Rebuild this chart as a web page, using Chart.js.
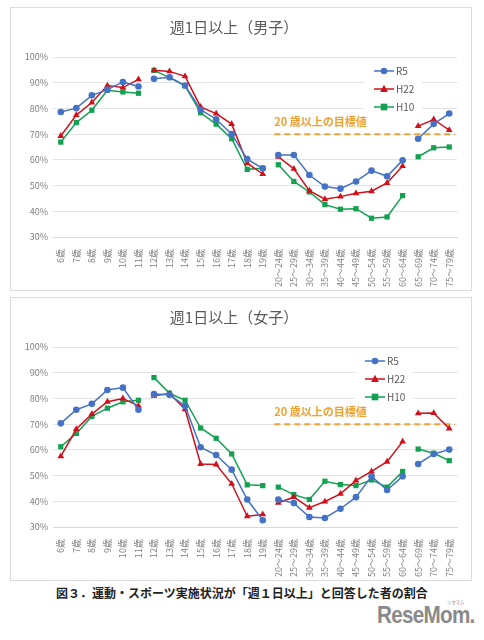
<!DOCTYPE html>
<html lang="ja">
<head>
<meta charset="UTF-8">
<title>週1日以上</title>
<script src="https://cdn.jsdelivr.net/npm/chart.js"></script>
<style>
  body { margin: 0; background: #fff; width: 484px; height: 640px; position: relative; font-family: "Noto Sans CJK JP", sans-serif; overflow: hidden; }
  .box { position: absolute; left: 10px; width: 462px; height: 284px; border: 1px solid #dcdcdc; box-sizing: border-box; }
  .box div { position: relative; width: 460px; height: 282px; }
  #caption { position: absolute; top: 584px; left: 0; width: 484px; text-align: center; font-size: 12px; font-weight: bold; color: #222; }
  #logo { position: absolute; top: 601px; right: 9px; font-family: "Liberation Sans", Arial, sans-serif; font-weight: bold; font-size: 24px; color: #8a8a8a; letter-spacing: -0.8px; transform: scaleX(0.86); transform-origin: right center; }
  #logo small { position: absolute; top: -3px; right: 12px; font-size: 5px; font-weight: normal; letter-spacing: 0; font-family: "Noto Sans CJK JP", sans-serif; }
</style>
</head>
<body>
  <div class="box" style="top:7px"><div><canvas id="boysChart"></canvas></div></div>
  <div class="box" style="top:297px"><div><canvas id="girlsChart"></canvas></div></div>
  <div id="caption">図３．運動・スポーツ実施状況が「週１日以上」と回答した者の割合</div>
  <div id="logo">ReseMom.<small>リセマム</small></div>

<script>
// 年齢区分
const CATEGORIES = ['6歳', '7歳', '8歳', '9歳', '10歳', '11歳', '12歳', '13歳', '14歳', '15歳', '16歳', '17歳', '18歳', '19歳',
  '20～24歳', '25～29歳', '30～34歳', '35～39歳', '40～44歳', '45～49歳', '50～54歳', '55～59歳', '60～64歳',
  '65～69歳', '70～74歳', '75～79歳'];

// 男子 (%)
const BOYS_R5 = [78.6, 80.1, 85.1, 87.3, 90.3, 88.5, 91.5, 92.1, 88.9, 79.5, 75.8, 70.0, 60.3, 56.7,
  61.9, 61.9, 54.1, 49.6, 48.8, 51.6, 55.8, 53.6, 59.8, 68.2, 74.0, 78.0];
const BOYS_H22 = [69.3, 77.4, 82.3, 88.9, 88.1, 91.3, 94.8, 94.4, 92.5, 80.6, 78.0, 73.9, 58.7, 54.5,
  61.2, 56.5, 48.0, 44.7, 45.7, 47.0, 47.8, 51.0, 57.6, 73.1, 75.7, 71.6];
const BOYS_H10 = [66.9, 74.5, 79.3, 87.1, 86.4, 85.9, 94.8, 92.0, 88.8, 78.3, 73.9, 68.2, 56.3, 56.7,
  58.1, 51.6, 47.5, 42.6, 40.8, 41.0, 37.3, 37.8, 46.1, 61.2, 64.7, 65.0];

// 女子 (%)
const GIRLS_R5 = [70.3, 75.6, 77.9, 83.3, 84.2, 75.6, 81.7, 81.4, 77.1, 61.0, 58.0, 52.3, 40.7, 32.6,
  40.7, 39.3, 33.9, 33.5, 37.1, 41.6, 49.7, 44.4, 49.7, 54.5, 58.4, 60.1];
const GIRLS_H22 = [57.5, 68.1, 73.9, 78.7, 80.0, 77.1, 81.0, 81.9, 75.8, 54.5, 54.3, 46.8, 34.2, 34.9,
  39.4, 41.6, 37.5, 39.9, 42.9, 48.1, 51.6, 55.4, 63.2, 74.2, 74.3, 68.3];
const GIRLS_H10 = [61.2, 66.4, 73.0, 76.2, 78.7, 79.3, 88.1, 82.0, 79.3, 68.5, 64.5, 58.4, 46.4, 46.1,
  45.5, 42.6, 40.7, 47.8, 46.5, 46.1, 48.3, 45.5, 51.6, 60.3, 58.7, 55.8];

// 線を切る位置 (この番号の次とはつながない)
const BREAKS = [5, 13, 22];

// 20歳以上の目標値
const TARGET_VALUE = 70;
const TARGET_FROM = 14;
const TARGET_LABEL = '20 歳以上の目標値';

const Y_MIN = 30, Y_MAX = 100, Y_STEP = 10;

const FONT = '"Noto Sans CJK JP", sans-serif';
const SERIES = [
  { label: 'R5', color: '#4472C4', style: 'circle', radius: 3.3 },
  { label: 'H22', color: '#D0101B', style: 'triangle', radius: 3.9 },
  { label: 'H10', color: '#12A150', style: 'rect', radius: 3.7 }
];

function drawMarker(ctx, style, x, y, r) {
  ctx.beginPath();
  if (style === 'circle') {
    ctx.arc(x, y, r, 0, Math.PI * 2);
  } else if (style === 'triangle') {
    ctx.moveTo(x, y - r * 1.1);
    ctx.lineTo(x + r, y + r * 0.75);
    ctx.lineTo(x - r, y + r * 0.75);
    ctx.closePath();
  } else {
    ctx.rect(x - r * 0.9, y - r * 0.9, r * 1.8, r * 1.8);
  }
  ctx.fill();
}

const legendPlugin = {
  id: 'boxLegend',
  beforeDatasetsDraw(chart, args, opts) {
    const { ctx, chartArea } = chart;
    const lx = chartArea.right - opts.right;
    const top = chartArea.top + 14;
    ctx.save();
    ctx.fillStyle = '#fff';
    ctx.fillRect(lx - 10, chartArea.top + 4, 58, 52);
    ctx.font = '10px ' + FONT;
    ctx.textBaseline = 'middle';
    chart.data.datasets.forEach((ds, i) => {
      if (!ds.inLegend) return;
      const y = top + i * 18;
      ctx.strokeStyle = ds.borderColor;
      ctx.lineWidth = 1.5;
      ctx.beginPath();
      ctx.moveTo(lx, y);
      ctx.lineTo(lx + 20, y);
      ctx.stroke();
      ctx.fillStyle = ds.borderColor;
      drawMarker(ctx, ds.pointStyle, lx + 10, y, ds.pointRadius);
      ctx.fillStyle = '#595959';
      ctx.fillText(ds.label, lx + 22, y + 0.5);
    });
    ctx.restore();
  }
};

const targetPlugin = {
  id: 'target',
  beforeDatasetsDraw(chart) {
    const { ctx, chartArea, scales } = chart;
    const y = scales.y.getPixelForValue(TARGET_VALUE);
    const x0 = scales.x.getPixelForValue(TARGET_FROM) - 4;
    ctx.save();
    ctx.strokeStyle = '#F2A233';
    ctx.lineWidth = 2;
    ctx.setLineDash([6, 4]);
    ctx.beginPath();
    ctx.moveTo(x0, y);
    ctx.lineTo(chartArea.right - 2, y);
    ctx.stroke();
    ctx.setLineDash([]);
    ctx.fillStyle = '#F0A030';
    ctx.font = 'bold 11px ' + FONT;
    ctx.textBaseline = 'middle';
    ctx.fillText(TARGET_LABEL, x0, y - 12);
    ctx.restore();
  }
};

function makeChart(canvasId, title, series, legendRight) {
  new Chart(document.getElementById(canvasId), {
    type: 'line',
    data: {
      labels: CATEGORIES,
      datasets: SERIES.map((s, i) => ({
        label: s.label,
        data: series[i],
        borderColor: s.color,
        backgroundColor: s.color,
        borderWidth: 1.5,
        pointStyle: s.style,
        pointRadius: s.radius,
        pointBorderWidth: 0,
        inLegend: true,
        tension: 0,
        segment: {
          borderColor: ctx => BREAKS.includes(ctx.p0DataIndex) ? 'rgba(0,0,0,0)' : undefined
        }
      }))
    },
    options: {
      responsive: true,
      maintainAspectRatio: false,
      animation: false,
      layout: { padding: { left: 0, right: 14, top: 0, bottom: 0 } },
      plugins: {
        legend: { display: false },
        tooltip: { enabled: false },
        title: {
          display: true,
          text: title,
          color: '#595959',
          font: { family: FONT, size: 15, weight: 'normal', lineHeight: 1.2 },
          padding: { top: 10, bottom: 21 }
        },
        boxLegend: { right: legendRight }
      },
      scales: {
        x: {
          offset: true,
          grid: { display: false },
          border: { color: '#d9d9d9' },
          ticks: {
            autoSkip: false, minRotation: 90, maxRotation: 90, padding: 4,
            color: '#7f7f7f', font: { family: FONT, size: 9 }
          },
          afterFit(scale) { scale.height = 53; }
        },
        y: {
          min: Y_MIN, max: Y_MAX,
          border: { display: false },
          grid: { color: '#e3e3e3', drawTicks: false },
          ticks: {
            stepSize: Y_STEP, padding: 5,
            color: '#7f7f7f', font: { family: FONT, size: 9 },
            callback: v => v + '%'
          },
          afterFit(scale) { scale.width = 42; }
        }
      }
    },
    plugins: [legendPlugin, targetPlugin]
  });
}

makeChart('boysChart', '週1日以上（男子）', [BOYS_R5, BOYS_H22, BOYS_H10], 83);
makeChart('girlsChart', '週1日以上（女子）', [GIRLS_R5, GIRLS_H22, GIRLS_H10], 92);
</script>
</body>
</html>
